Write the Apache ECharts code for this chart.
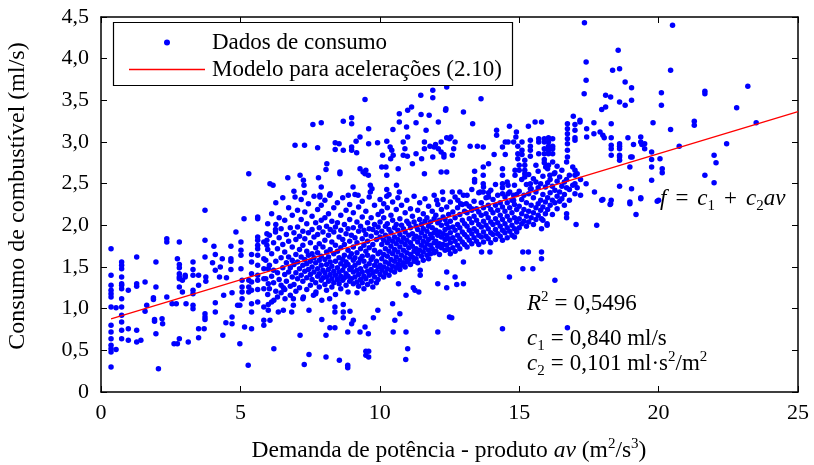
<!DOCTYPE html>
<html>
<head>
<meta charset="utf-8">
<script src="https://cdn.jsdelivr.net/npm/echarts@6/dist/echarts.min.js"></script>
<style>
  html, body { margin: 0; padding: 0; background: #ffffff; }
  #chart { width: 814px; height: 465px; }
</style>
</head>
<body>
<div id="chart"></div>
<script>
// Axis ticks
const xTicks = [0, 5, 10, 15, 20, 25];
const yTicks = [0, 0.5, 1.0, 1.5, 2.0, 2.5, 3.0, 3.5, 4.0, 4.5];

// Fitted model f = c1 + c2*av
const c1 = 0.840;
const c2 = 0.101;
const r2Text = '0,5496';

// Consumption samples, one row per av value: [av, f1, f2, ...]
const samplesAv0to5 = [
  [0.36, 1.72, 1.40, 1.28, 1.22, 1.18, 1.14, 1.02, 0.80, 0.72, 0.64, 0.56, 0.52, 0.48, 0.30],
  [0.54, 1.01, 0.51],
  [0.74, 1.56, 1.52, 1.48, 1.38, 1.30, 1.28, 1.24, 1.12, 1.02, 0.92, 0.84, 0.74, 0.64],
  [0.98, 1.22, 0.76, 0.62],
  [1.28, 1.62, 1.30, 1.27, 0.74, 0.60],
  [1.43, 0.62], [1.58, 1.32, 0.97], [1.64, 1.04], [1.88, 1.13, 1.11], [1.92, 0.87, 0.85],
  [1.97, 1.56, 1.26, 0.70], [2.06, 0.28], [2.19, 0.88], [2.21, 0.82], [2.36, 1.84, 1.80, 1.14],
  [2.55, 1.06], [2.62, 0.58], [2.70, 1.06], [2.74, 1.60, 0.58],
  [2.81, 1.80, 1.53, 1.49, 1.42, 1.38, 1.36, 1.26, 0.64],
  [2.92, 1.34, 1.20], [3.02, 1.40, 1.38], [3.05, 1.06], [3.13, 0.60],
  [3.30, 1.56, 1.47, 1.40, 1.22, 1.18, 1.04, 1.00],
  [3.50, 1.40, 1.28, 0.76, 0.65], [3.70, 0.76], [3.73, 2.18, 1.82, 1.62, 0.94, 0.90, 0.87],
  [3.76, 1.38, 1.33], [4.00, 1.55], [4.05, 1.75], [4.10, 1.65, 1.46, 1.07, 0.96],
  [4.25, 1.38], [4.28, 1.50], [4.35, 1.60], [4.37, 0.68], [4.40, 1.16], [4.48, 0.83],
  [4.50, 1.37], [4.66, 1.75, 1.60, 1.57, 1.47], [4.70, 1.19, 0.90, 0.82], [4.84, 1.92],
  [4.90, 1.04], [4.98, 1.04, 0.58]
];

const samplesAv5to10 = [
  [5.02, 1.80, 1.70, 1.64, 1.48], [5.06, 1.34, 1.26, 1.20, 1.12], [5.13, 2.08], [5.15, 0.78],
  [5.28, 0.32], [5.30, 2.62, 1.34, 1.26, 1.20],
  [5.40, 1.65, 1.56, 1.42, 1.32, 1.22, 1.06, 0.96, 0.76],
  [5.62, 2.10, 2.08, 1.86, 1.82, 1.76, 1.72, 1.64, 1.52, 1.40, 1.34, 1.23, 1.08],
  [5.84, 1.80, 1.60, 1.48, 1.36, 1.24, 1.02, 0.86, 0.80],
  [5.95, 1.90, 1.82, 1.76], [6.00, 1.48, 1.30, 1.05, 0.98], [6.06, 2.50, 0.86],
  [6.17, 2.48], [6.20, 1.10, 0.52], [6.26, 1.95, 1.92],
  [5.91, 1.58, 1.36], [5.98, 2.02, 1.71, 1.17],
  [6.04, 1.88, 1.52, 1.24], [6.12, 2.14, 1.66, 1.39, 1.08],
  [6.19, 1.79, 1.46, 1.31], [6.27, 2.27, 2.01, 1.57, 1.21],
  [6.33, 1.72, 1.43, 1.14], [6.39, 2.09, 1.85, 1.35],
  [6.46, 1.96, 1.61, 1.28, 1.19], [6.52, 2.33, 1.77, 1.49],
  [6.59, 2.06, 1.68, 1.41, 1.23], [6.65, 1.89, 1.55, 1.33],
  [6.73, 2.21, 1.81, 1.62, 1.44], [6.79, 1.97, 1.49, 1.27, 1.16],
  [6.86, 2.12, 1.74, 1.58, 1.38], [6.92, 2.41, 1.91, 1.53, 1.29],
  [6.99, 1.83, 1.65, 1.43, 1.21], [7.05, 2.18, 1.98, 1.56, 1.36],
  [7.12, 1.87, 1.71, 1.48, 1.25], [7.18, 2.31, 2.07, 1.62, 1.40],
  [7.24, 1.93, 1.76, 1.52, 1.33, 1.12], [7.31, 2.16, 1.84, 1.59, 1.45],
  [7.38, 2.02, 1.69, 1.54, 1.37, 1.23], [7.44, 2.26, 1.91, 1.64, 1.47],
  [7.51, 1.79, 1.57, 1.41, 1.28], [7.57, 2.11, 1.95, 1.66, 1.50, 1.35],
  [7.64, 2.35, 1.86, 1.61, 1.44], [7.70, 2.03, 1.73, 1.55, 1.31, 1.18],
  [7.77, 2.19, 1.89, 1.67, 1.48, 1.39], [7.83, 1.97, 1.78, 1.58, 1.42, 1.26],
  [7.90, 2.24, 2.06, 1.63, 1.52, 1.34], [7.96, 1.92, 1.74, 1.46, 1.37],
  [8.03, 2.30, 2.09, 1.82, 1.59, 1.43, 1.29], [8.09, 1.99, 1.68, 1.53, 1.38, 1.22],
  [8.16, 2.14, 1.88, 1.62, 1.47, 1.33], [8.22, 2.38, 1.95, 1.71, 1.56, 1.41],
  [8.28, 2.05, 1.80, 1.51, 1.36, 1.26], [8.35, 2.21, 1.92, 1.66, 1.45, 1.31],
  [8.41, 1.98, 1.76, 1.57, 1.40, 1.17], [8.48, 2.27, 2.03, 1.69, 1.49, 1.35],
  [8.54, 1.86, 1.61, 1.44, 1.30], [8.60, 2.12, 1.94, 1.73, 1.54, 1.39, 1.24],
  [8.67, 2.33, 1.83, 1.59, 1.46, 1.34], [8.73, 2.01, 1.77, 1.64, 1.51, 1.37],
  [8.79, 2.18, 1.90, 1.56, 1.42, 1.28], [8.86, 1.96, 1.70, 1.53, 1.39, 1.20],
  [8.92, 2.25, 2.07, 1.81, 1.62, 1.47, 1.33], [8.98, 1.88, 1.66, 1.49, 1.36],
  [9.05, 2.15, 1.97, 1.74, 1.58, 1.44, 1.30], [9.11, 2.37, 1.85, 1.61, 1.52, 1.38],
  [9.18, 2.04, 1.79, 1.67, 1.46, 1.32, 1.19], [9.24, 2.22, 1.93, 1.55, 1.41, 1.27],
  [9.31, 1.99, 1.72, 1.60, 1.48, 1.35], [9.37, 2.29, 2.10, 1.84, 1.63, 1.44, 1.31],
  [9.43, 1.94, 1.76, 1.57, 1.39, 1.24], [9.50, 2.17, 1.89, 1.69, 1.51, 1.36],
  [9.56, 2.03, 1.81, 1.64, 1.45, 1.29], [9.62, 2.34, 1.96, 1.73, 1.54, 1.40],
  [9.69, 2.09, 1.87, 1.59, 1.47, 1.33], [9.75, 1.95, 1.77, 1.62, 1.43, 1.26],
  [9.81, 2.24, 2.01, 1.70, 1.52, 1.38], [9.88, 1.91, 1.83, 1.57, 1.45, 1.31],
  [9.94, 2.13, 1.98, 1.66, 1.50, 1.35],
  [6.36, 0.96], [6.54, 0.98, 1.25], [6.60, 1.12], [6.70, 2.57], [6.84, 0.96], [6.90, 1.12, 1.04],
  [6.96, 2.96, 2.34], [7.14, 2.60, 0.68], [7.26, 2.54, 1.14], [7.28, 2.48], [7.30, 2.96, 2.39],
  [7.29, 0.33], [7.46, 0.98, 0.45], [7.60, 3.21], [7.62, 1.16], [7.71, 1.20], [7.77, 2.93],
  [7.80, 2.57], [7.85, 2.36, 2.34], [7.90, 3.23, 2.46], [7.92, 1.10, 0.87],
  [8.07, 2.67, 0.68, 0.42], [8.10, 2.74], [8.20, 2.36, 1.12], [8.21, 0.77],
  [8.39, 1.02, 0.96, 0.77], [8.40, 2.99, 2.91], [8.54, 2.98], [8.55, 0.38], [8.57, 2.64, 2.62],
  [8.69, 3.25, 2.90, 1.05, 0.96, 0.89], [8.85, 0.72, 0.32, 0.29], [8.87, 2.36], [8.93, 0.97],
  [8.99, 3.29, 3.22, 2.94, 2.90, 0.82], [9.04, 2.46], [9.05, 0.86], [9.15, 3.01], [9.17, 2.87],
  [9.22, 2.36], [9.29, 3.06, 2.68, 0.72], [9.40, 2.64], [9.47, 3.51, 2.62, 0.78],
  [9.50, 2.66, 0.49, 0.44], [9.59, 2.60, 0.70], [9.60, 3.16, 2.98, 0.49, 0.42],
  [9.66, 2.48, 2.40], [9.72, 2.44], [9.77, 0.89], [9.92, 2.99], [9.93, 0.98]
];

const samplesAv10to15 = [
  [10.01, 2.31, 2.04, 1.86, 1.68, 1.52, 1.41], [10.07, 2.17, 1.93, 1.77, 1.60, 1.46],
  [10.14, 2.26, 2.09, 1.82, 1.65, 1.50, 1.38], [10.20, 1.99, 1.88, 1.72, 1.56, 1.43],
  [10.27, 2.21, 2.02, 1.79, 1.63, 1.48], [10.33, 2.37, 1.95, 1.84, 1.69, 1.54, 1.40],
  [10.40, 2.12, 1.91, 1.75, 1.59, 1.46], [10.46, 2.28, 2.06, 1.81, 1.66, 1.51],
  [10.53, 1.97, 1.86, 1.71, 1.57, 1.44], [10.59, 2.19, 2.01, 1.78, 1.62, 1.49],
  [10.65, 2.33, 1.94, 1.83, 1.68, 1.53], [10.72, 2.08, 1.89, 1.74, 1.58, 1.47],
  [10.78, 2.24, 2.00, 1.80, 1.64, 1.52], [10.85, 1.96, 1.85, 1.70, 1.55],
  [10.91, 2.15, 1.92, 1.77, 1.61, 1.50], [10.97, 2.30, 2.05, 1.82, 1.67, 1.56],
  [11.04, 2.02, 1.88, 1.73, 1.59], [11.10, 2.20, 1.97, 1.79, 1.65, 1.53],
  [11.17, 2.11, 1.90, 1.75, 1.62], [11.23, 2.35, 2.04, 1.84, 1.69, 1.57],
  [11.30, 1.99, 1.87, 1.72, 1.60], [11.36, 2.18, 1.95, 1.80, 1.66, 1.55],
  [11.43, 2.27, 2.07, 1.85, 1.70], [11.49, 2.01, 1.91, 1.76, 1.63],
  [11.56, 2.14, 1.96, 1.81, 1.68, 1.58], [11.62, 2.32, 2.05, 1.87, 1.73],
  [11.69, 2.09, 1.93, 1.78, 1.64], [11.75, 2.23, 1.99, 1.83, 1.70, 1.60],
  [11.82, 2.04, 1.89, 1.76, 1.66], [11.88, 2.17, 1.97, 1.85, 1.72],
  [11.95, 2.36, 2.08, 1.91, 1.79, 1.67], [12.01, 2.12, 1.94, 1.81, 1.69],
  [12.08, 2.25, 2.03, 1.88, 1.75], [12.14, 2.06, 1.92, 1.78, 1.65],
  [12.21, 2.19, 2.00, 1.86, 1.73], [12.27, 2.31, 2.10, 1.90, 1.77],
  [12.34, 2.07, 1.95, 1.83, 1.70], [12.40, 2.22, 2.02, 1.88, 1.76],
  [12.47, 2.13, 1.97, 1.84, 1.71],
  [12.53, 2.28, 2.05, 1.91, 1.79, 1.66], [12.62, 2.16, 1.98, 1.85, 1.73],
  [12.70, 2.34, 2.09, 1.94, 1.81, 1.69], [12.79, 2.21, 2.01, 1.88, 1.76],
  [12.87, 2.40, 2.13, 1.97, 1.84, 1.72], [12.96, 2.25, 2.06, 1.92, 1.80],
  [13.04, 2.17, 2.02, 1.89, 1.77], [13.13, 2.36, 2.15, 1.99, 1.86, 1.74],
  [13.21, 2.23, 2.08, 1.94, 1.82], [13.30, 2.43, 2.18, 2.03, 1.90, 1.78],
  [13.38, 2.29, 2.11, 1.96, 1.85], [13.47, 2.20, 2.06, 1.93, 1.81],
  [13.55, 2.39, 2.16, 2.01, 1.88, 1.77], [13.64, 2.27, 2.12, 1.98, 1.86],
  [13.72, 2.46, 2.21, 2.05, 1.92, 1.80], [13.81, 2.33, 2.14, 2.00, 1.87],
  [13.89, 2.24, 2.09, 1.96, 1.84], [13.98, 2.42, 2.19, 2.04, 1.91, 1.79],
  [14.06, 2.31, 2.15, 2.01, 1.89], [14.15, 2.49, 2.24, 2.08, 1.95, 1.83],
  [14.23, 2.36, 2.18, 2.03, 1.90], [14.32, 2.27, 2.12, 1.99, 1.87],
  [14.40, 2.45, 2.22, 2.07, 1.94, 1.82], [14.49, 2.34, 2.17, 2.02, 1.91],
  [14.57, 2.52, 2.27, 2.11, 1.97, 1.85], [14.66, 2.40, 2.21, 2.06, 1.93],
  [14.74, 2.30, 2.15, 2.00, 1.88], [14.83, 2.48, 2.25, 2.09, 1.96, 1.86],
  [14.91, 2.37, 2.19, 2.04, 1.92],
  [10.70, 3.34, 3.24, 2.40], [10.47, 3.15], [10.96, 3.18], [11.14, 3.42], [11.00, 3.38, 3.06, 0.52],
  [11.47, 3.56], [11.90, 3.62, 3.53, 2.82], [12.40, 3.66, 3.05, 2.64], [11.48, 3.33], [11.77, 3.32],
  [12.36, 3.38], [11.30, 3.23, 2.86], [11.66, 3.14], [12.10, 3.24, 2.92], [10.25, 3.01, 2.60, 2.43, 2.35],
  [10.37, 2.94], [10.43, 2.90], [10.48, 2.84, 0.72], [10.39, 2.80], [10.10, 2.84], [10.84, 3.00, 2.84],
  [10.90, 2.92], [10.99, 2.83], [11.60, 3.00, 2.92, 2.62], [11.80, 2.95], [11.95, 2.94],
  [12.00, 2.97], [12.30, 2.85, 2.82], [11.50, 2.80], [11.17, 2.74], [10.07, 2.70], [10.22, 2.70],
  [10.66, 2.68], [12.20, 2.64, 3.00, 2.88], [10.60, 2.48], [12.25, 2.40], [12.04, 2.30],
  [12.37, 3.40], [13.00, 3.36, 2.36, 1.56, 1.30], [13.63, 3.52], [13.33, 3.22], [14.19, 3.14, 3.08],
  [14.65, 3.19, 1.38], [14.90, 3.12], [14.88, 3.06], [12.50, 3.04, 0.90], [12.55, 3.06],
  [12.70, 3.00, 1.38], [12.65, 2.92], [12.60, 2.84, 2.40], [13.71, 2.94, 2.70, 2.60, 2.50, 2.40],
  [13.24, 2.95], [13.50, 2.95], [14.10, 2.85], [14.40, 2.94, 2.68, 2.60, 2.50, 2.38, 0.76],
  [14.50, 2.85, 3.00], [14.60, 3.00, 2.48, 2.38], [14.80, 3.00, 2.36, 2.30], [14.95, 2.95, 2.86, 2.80],
  [13.40, 2.65, 2.55, 2.52], [13.90, 2.74, 2.39, 2.34], [13.60, 2.40], [13.30, 2.20],
  [13.10, 2.26], [12.80, 2.30], [12.90, 2.26], [14.85, 2.66, 2.60],
  [12.58, 0.89], [12.40, 1.25, 1.44], [12.76, 1.29], [13.65, 1.68], [13.95, 1.68],
  [12.08, 0.72, 1.30], [10.94, 0.72, 1.16], [10.93, 0.39], [10.54, 0.86], [10.72, 0.94],
  [10.46, 1.06], [11.26, 1.22], [11.45, 1.40, 1.46], [11.20, 1.25], [11.40, 1.20], [10.67, 1.30]
];

const samplesAv15to25 = [
  [15.00, 2.41, 2.23, 2.08, 1.97], [15.09, 2.55, 2.31, 2.14, 2.02],
  [15.17, 2.36, 2.19, 2.05], [15.26, 2.49, 2.27, 2.11, 1.99],
  [15.34, 2.61, 2.38, 2.17, 2.04], [15.43, 2.44, 2.24, 2.09],
  [15.51, 2.56, 2.33, 2.15, 2.01], [15.60, 2.40, 2.21, 2.07],
  [15.68, 2.65, 2.45, 2.26, 2.12], [15.77, 2.50, 2.30, 2.18],
  [15.85, 2.59, 2.37, 2.22, 2.06], [15.94, 2.46, 2.28, 2.14],
  [16.02, 2.68, 2.51, 2.33, 2.19], [16.11, 2.55, 2.39, 2.24],
  [16.19, 2.47, 2.30, 2.13], [16.28, 2.63, 2.42, 2.27],
  [16.36, 2.71, 2.53, 2.35, 2.20], [16.45, 2.58, 2.40, 2.29],
  [16.53, 2.66, 2.47, 2.32], [16.62, 2.52, 2.37, 2.24],
  [16.80, 2.60, 2.43, 2.30], [16.92, 2.70, 2.48], [17.08, 2.62, 2.45], [17.20, 2.55, 2.36],
  [15.80, 2.08, 1.96, 1.68, 1.60], [16.00, 2.00, 2.02], [16.28, 1.34], [15.33, 1.68],
  [15.13, 1.68, 1.48], [15.49, 1.48], [16.73, 0.77], [16.70, 2.14, 2.09], [17.04, 2.01],
  [17.78, 2.00], [17.96, 2.30], [18.28, 2.26], [18.26, 2.25], [18.97, 2.26], [19.36, 2.32],
  [19.19, 2.13], [19.95, 2.29],
  [17.34, 4.43], [18.55, 4.10], [17.40, 3.96, 3.74], [18.35, 3.86], [17.33, 3.58], [18.10, 3.56, 3.42],
  [18.28, 3.54], [17.96, 3.39], [16.94, 3.31], [15.33, 3.19], [15.57, 3.24], [15.80, 3.24],
  [16.73, 3.22, 3.16, 3.10, 3.04, 2.98, 2.90, 2.82], [17.00, 3.21, 3.14, 3.05, 3.02, 2.66, 2.60, 2.50, 2.38],
  [17.18, 3.26, 3.24], [17.42, 3.16, 3.06], [17.68, 3.23, 3.10], [17.90, 3.12], [18.00, 3.08, 2.31],
  [18.05, 3.05], [18.30, 3.22, 3.05, 2.96, 2.92, 2.84, 2.30], [18.60, 2.98, 2.82],
  [15.10, 2.85, 2.90, 3.00], [15.40, 3.02, 2.95, 2.90, 2.83, 2.50, 2.44], [15.70, 3.04, 3.00, 2.86],
  [15.90, 3.04, 3.00, 2.92, 2.86, 2.79, 2.75], [16.05, 3.05, 3.00, 2.95, 2.90, 2.86, 2.72],
  [16.20, 3.04, 2.95, 2.92, 2.86, 2.76], [15.20, 2.78, 2.72, 2.66, 2.62, 2.58], [15.00, 2.72, 2.66],
  [15.60, 2.72, 2.52], [15.95, 2.70], [16.10, 2.60], [16.25, 2.62], [16.70, 2.76, 2.55, 2.45],
  [17.40, 2.50], [17.70, 2.40],
  [20.50, 4.40], [18.60, 3.88, 3.48, 2.95, 2.92, 2.84, 2.78, 2.47], [20.43, 3.86, 3.15],
  [18.80, 3.72, 3.44], [19.03, 3.65, 3.50, 2.44], [20.10, 3.59, 3.44], [21.66, 3.61, 3.58, 2.60],
  [23.20, 3.67], [22.80, 3.41], [19.80, 3.23], [21.28, 3.25, 3.20], [23.50, 3.23],
  [18.90, 3.05], [19.10, 2.97], [19.40, 2.97], [19.36, 3.06, 3.00, 2.33], [19.50, 2.98, 2.92],
  [19.00, 2.82], [19.05, 2.82], [18.97, 2.70, 2.28], [19.75, 2.88, 2.79, 2.70, 2.54], [20.05, 2.80],
  [20.13, 2.68, 2.63], [20.74, 2.95], [21.99, 2.84, 2.51], [22.06, 2.75], [22.44, 2.98], [20.00, 2.30]
];

// Expand rows into [av, f] points
function expandRows(rows) {
  const pts = [];
  rows.forEach(r => { for (let i = 1; i < r.length; i++) pts.push([r[0], r[i]]); });
  return pts;
}
const consumo = [].concat(
  expandRows(samplesAv0to5),
  expandRows(samplesAv5to10),
  expandRows(samplesAv10to15),
  expandRows(samplesAv15to25)
);

const avMin = Math.min.apply(null, consumo.map(p => p[0]));
const avMax = 25;
const modelo = [[avMin, c1 + c2 * avMin], [avMax, c1 + c2 * avMax]];

const FONT = "'Liberation Serif', 'Times New Roman', serif";
const FS_TICK = 22;
const FS = 23;
const FS_TITLE = 23.5;

// rich styles for math-like annotations: all tokens centred on the line,
// superscripts raised and subscripts lowered through vertical padding
function richFor(size) {
  const base = { fontFamily: FONT, fontSize: size, lineHeight: 30, verticalAlign: 'middle', fill: '#000' };
  return {
    n:   Object.assign({}, base),
    i:   Object.assign({}, base, { fontStyle: 'italic' }),
    op:  Object.assign({}, base, { padding: [0, 6, 0, 6] }),
    opw: Object.assign({}, base, { padding: [0, 9, 0, 9] }),
    sup: Object.assign({}, base, { fontSize: 15, padding: [0, 0, 13, 0] }),
    sub: Object.assign({}, base, { fontSize: 15, padding: [14, 0, 0, 0] })
  };
}

function mathText(x, y, text, align, size) {
  return {
    type: 'text', x: x, y: y, z: 100,
    style: {
      text: text, rich: richFor(size || FS), align: align || 'left', verticalAlign: 'middle',
      fontFamily: FONT, fontSize: size || FS, fill: '#000'
    }
  };
}

const fmtY = v => (v === 0 ? '0' : v.toFixed(1).replace('.', ','));
const fmtC = v => v.toFixed(3).replace('.', ',');

const axisCommon = {
  type: 'value',
  axisLine: { show: true, onZero: false, lineStyle: { color: '#000', width: 1.5 } },
  axisTick: { show: true, inside: true, length: 6, lineStyle: { color: '#000', width: 1 } },
  splitLine: { show: false }
};

const chart = echarts.init(document.getElementById('chart'), null, { renderer: 'canvas' });
chart.setOption({
  animation: false,
  backgroundColor: '#ffffff',
  grid: { left: 101, right: 16, top: 17, bottom: 73, containLabel: false },
  xAxis: [
    Object.assign({}, axisCommon, {
      min: xTicks[0], max: xTicks[xTicks.length - 1], interval: 5, position: 'bottom',
      axisLabel: { color: '#000', fontFamily: FONT, fontSize: FS_TICK, margin: 10 }
    }),
    Object.assign({}, axisCommon, {
      min: xTicks[0], max: xTicks[xTicks.length - 1], interval: 5, position: 'top',
      axisLabel: { show: false }
    })
  ],
  yAxis: [
    Object.assign({}, axisCommon, {
      min: yTicks[0], max: yTicks[yTicks.length - 1], interval: 0.5, position: 'left',
      axisLabel: { color: '#000', fontFamily: FONT, fontSize: FS_TICK, margin: 12, formatter: fmtY }
    }),
    Object.assign({}, axisCommon, {
      min: yTicks[0], max: yTicks[yTicks.length - 1], interval: 0.5, position: 'right',
      axisLabel: { show: false }
    })
  ],
  legend: {
    orient: 'vertical', left: 129, top: 31, padding: 0, itemGap: 4, z: 20,
    itemWidth: 76, itemHeight: 6, symbolKeepAspect: true,
    textStyle: { color: '#000', fontFamily: FONT, fontSize: FS, padding: [0, 0, 0, 2], lineHeight: 22 },
    data: [
      { name: 'Dados de consumo', icon: 'circle' },
      { name: 'Modelo para acelerações (2.10)', icon: 'path://M0,0L76,0L76,1.4L0,1.4Z' }
    ],
    selectedMode: false
  },
  series: [
    {
      name: 'Dados de consumo', type: 'scatter', data: consumo,
      symbol: 'circle', symbolSize: 5.5,
      itemStyle: { color: '#0000ff', opacity: 1 }, z: 2
    },
    {
      name: 'Modelo para acelerações (2.10)', type: 'line', data: modelo,
      symbol: 'none', lineStyle: { color: '#ff0000', width: 1.3 }, itemStyle: { color: '#ff0000' },
      z: 3
    }
  ],
  graphic: [
    {
      type: 'rect', z: 4, silent: true,
      shape: { x: 113.5, y: 22.5, width: 399, height: 63 },
      style: { fill: '#ffffff', stroke: '#000', lineWidth: 1.2 }
    },
    {
      type: 'text', x: 18, y: 196, rotation: Math.PI / 2, z: 100,
      style: { text: 'Consumo de combustível (ml/s)', fontFamily: FONT, fontSize: 24,
               fill: '#000', align: 'center', verticalAlign: 'middle' }
    },
    mathText(449, 451, '{n|Demanda de potência - produto }{i|av}{n| (m}{sup|2}{n|/s}{sup|3}{n|)}', 'center', FS_TITLE),
    mathText(660, 199, '{i|f}{opw|=}{i|c}{sub|1}{opw|+}{i|c}{sub|2}{i|av}'),
    mathText(527, 304, '{i|R}{sup|2}{op|=}{n|' + r2Text + '}'),
    mathText(527, 339, '{i|c}{sub|1}{op|=}{n|' + fmtC(c1) + ' ml/s}'),
    mathText(527, 364, '{i|c}{sub|2}{op|=}{n|' + fmtC(c2) + ' ml·s}{sup|2}{n|/m}{sup|2}')
  ]
});
</script>
</body>
</html>
